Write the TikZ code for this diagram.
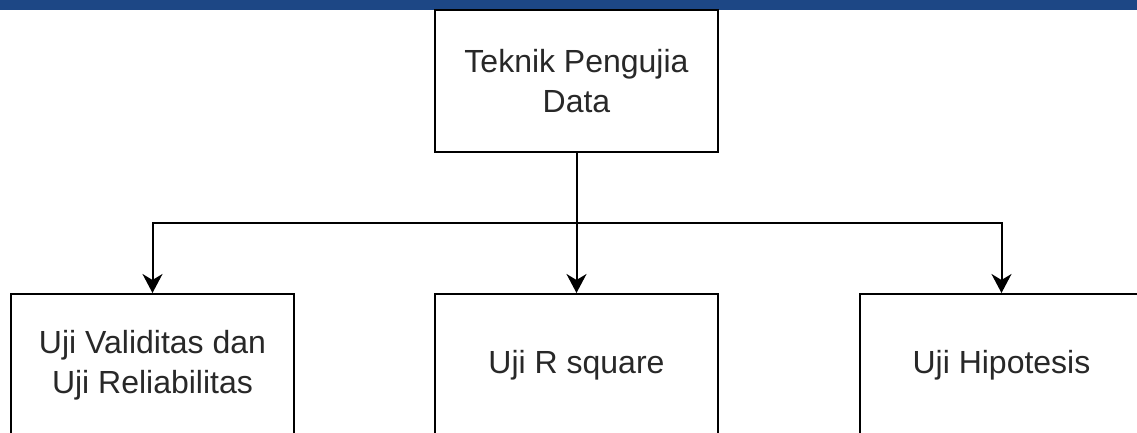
\documentclass[tikz,border=0pt]{standalone}
\usepackage{fontspec}
\setmainfont{Liberation Sans}
\usetikzlibrary{arrows.meta}
\definecolor{barblue}{RGB}{29,71,133}
\definecolor{txt}{RGB}{40,40,40}
\begin{document}
\begin{tikzpicture}[x=0.5pt,y=-0.5pt,
  boxnode/.style={draw=black,line width=1pt,fill=white,minimum width=141.5pt,minimum height=71pt,
    inner sep=0pt,align=center,text=txt,font=\fontsize{16}{20}\selectfont},
  conn/.style={line width=1pt,-{Stealth[length=9.5pt,width=10pt,inset=3pt]}}]
\useasboundingbox (0,0) rectangle (1137,433);
\clip (0,0) rectangle (1137,433);
\fill[barblue] (0,0) rectangle (1137,10);
\node[boxnode] (top) at (576.5,81.5) {Teknik Pengujia\\Data};
\node[boxnode] (left) at (152.5,365) {Uji Validitas dan\\Uji Reliabilitas};
\node[boxnode] (mid) at (576.5,365) {Uji R square};
\node[boxnode] (right) at (1001.5,365) {Uji Hipotesis};
\coordinate (j) at (576.5,223);
\draw[conn] (top) -- (mid);
\draw[conn] (j) -| (left);
\draw[conn] (j) -| (right);
\end{tikzpicture}
\end{document}
